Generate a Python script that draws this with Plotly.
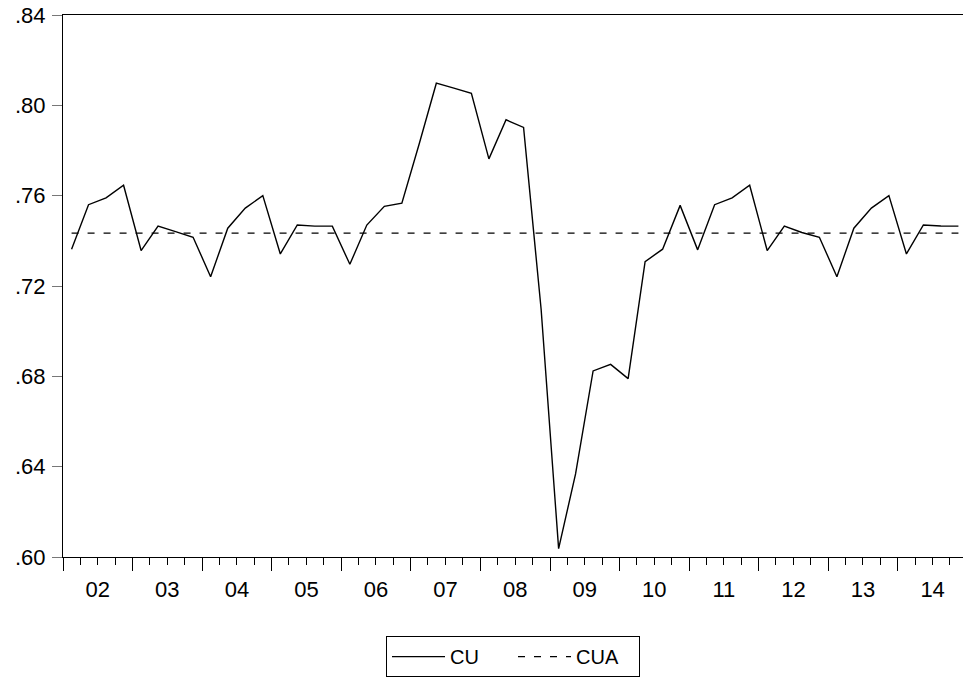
import plotly.graph_objects as go

# Quarterly capacity utilisation, 2002Q1 - 2014Q4
years = list(range(2002, 2015))
quarter_mid_months = [2, 5, 8, 11]
dates = [f"{y}-{m:02d}-15" for y in years for m in quarter_mid_months]

cu = [
    0.7363, 0.7560, 0.7590, 0.7646,  # 2002
    0.7357, 0.7465, 0.7441, 0.7416,  # 2003
    0.7241, 0.7456, 0.7545, 0.7600,  # 2004
    0.7342, 0.7470, 0.7465, 0.7465,  # 2005
    0.7296, 0.7470, 0.7553, 0.7567,  # 2006
    0.7832, 0.8098, 0.8076, 0.8053,  # 2007
    0.7763, 0.7936, 0.7902, 0.7098,  # 2008
    0.6037, 0.6368, 0.6824, 0.6853,  # 2009
    0.6790, 0.7308, 0.7363, 0.7557,  # 2010
    0.7360, 0.7560, 0.7590, 0.7646,  # 2011
    0.7357, 0.7465, 0.7437, 0.7416,  # 2012
    0.7241, 0.7456, 0.7545, 0.7600,  # 2013
    0.7342, 0.7470, 0.7466, 0.7465,  # 2014
]
cua = [0.7434] * len(cu)

y_ticks = [0.60, 0.64, 0.68, 0.72, 0.76, 0.80, 0.84]
y_labels = [".60", ".64", ".68", ".72", ".76", ".80", ".84"]

FONT = "Liberation Sans, Arial, sans-serif"
FS = 22

fig = go.Figure()
fig.add_trace(go.Scatter(x=dates, y=cu, mode="lines", name="CU",
                         line=dict(color="black", width=1.4)))
fig.add_trace(go.Scatter(x=dates, y=cua, mode="lines", name="CUA",
                         line=dict(color="black", width=1.4, dash="7px,9px")))

fig.update_layout(
    width=963, height=679,
    margin=dict(l=63, r=0, t=15, b=122),
    paper_bgcolor="white", plot_bgcolor="white",
    font=dict(family=FONT, size=FS, color="black"),
    showlegend=True,
    legend=dict(orientation="h", x=0.5, xanchor="center", y=-0.146, yanchor="top",
                bordercolor="black", borderwidth=1, bgcolor="white",
                font=dict(size=20), itemwidth=53, entrywidth=58,
                tracegroupgap=0),
    xaxis=dict(
        type="date", range=["2002-01-01", "2014-12-09"],
        tickmode="linear", tick0="2002-01-01", dtick="M12",
        tickformat="%y", ticklabelmode="period",
        ticks="outside", ticklen=13, tickwidth=1, tickcolor="black",
        minor=dict(ticks="outside", ticklen=7, tickwidth=1, tickcolor="black",
                   dtick="M3", tick0="2002-01-01", showgrid=False),
        showline=True, linecolor="black", linewidth=1, mirror=True,
        showgrid=False, zeroline=False,
        tickfont=dict(size=FS),
    ),
    yaxis=dict(
        range=[0.60, 0.84], tickvals=y_ticks, ticktext=y_labels,
        ticks="outside", ticklen=10, tickwidth=1, tickcolor="#777777",
        ticklabelstandoff=2,
        showline=True, linecolor="black", linewidth=1,
        showgrid=False, zeroline=False,
        tickfont=dict(size=FS),
    ),
)

fig.write_html("out.html")
